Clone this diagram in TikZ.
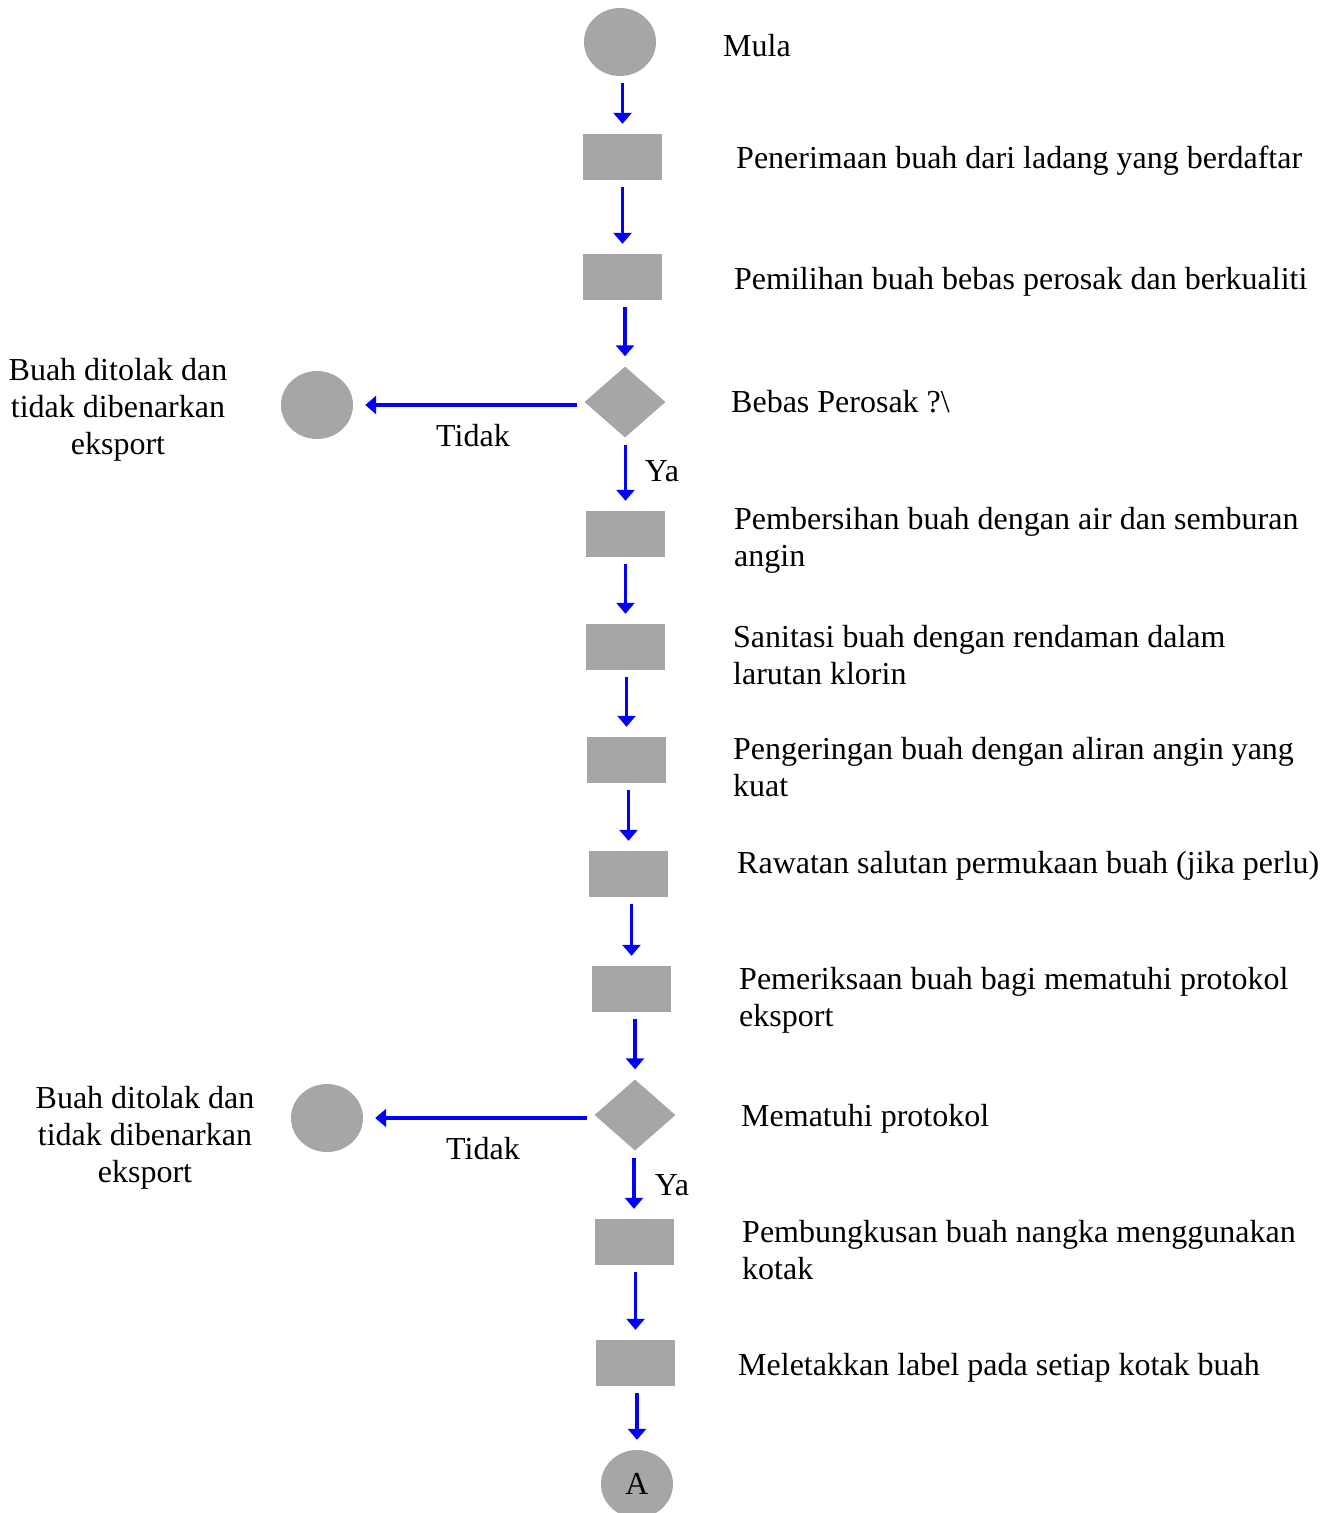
\documentclass[tikz,border=0pt]{standalone}
\usepackage{fontspec}
\setmainfont{Liberation Serif}
\usetikzlibrary{arrows.meta,shapes.geometric}

\definecolor{boxgray}{HTML}{A6A6A6}

\tikzset{
    proc/.style={fill=boxgray, minimum width=79pt, minimum height=46pt, inner sep=0pt},
    term/.style={ellipse, fill=boxgray, minimum width=72pt, minimum height=68pt, inner sep=0pt},
    decide/.style={diamond, fill=boxgray, minimum width=81pt, minimum height=71pt, inner sep=0pt},
    flow/.style={-{Triangle[width=18pt,length=11pt]}, draw=blue, line width=3.2pt, shorten <=7pt, shorten >=10pt},
    desc/.style={anchor=north west, inner sep=0pt, align=left},
    reject/.style={anchor=north, inner sep=0pt, align=center},
}

\begin{document}
\begin{tikzpicture}[x=1pt, y=-1pt, every node/.style={font=\fontsize{32}{37}\selectfont}]
    \useasboundingbox (0,0) rectangle (1333,1513);

    % main column
    \node[term] (start) at (620,42) {};
    \node[proc] (s1) at (622.5,157) {};
    \node[proc] (s2) at (622.5,277) {};
    \node[decide] (d1) at (625,402) {};
    \node[proc] (s3) at (625.5,534) {};
    \node[proc] (s4) at (625.5,647) {};
    \node[proc] (s5) at (626.5,760) {};
    \node[proc] (s6) at (628.5,874) {};
    \node[proc] (s7) at (631.5,989) {};
    \node[decide] (d2) at (635,1115) {};
    \node[proc] (s8) at (634,1242) {};
    \node[proc] (s9) at (635.5,1363) {};
    \node[term] (endA) at (637,1484) {A};

    % rejected fruit
    \node[term] (r1) at (317,405) {};
    \node[term] (r2) at (327,1118) {};
    \node[reject] (tr1) at (118,358) {Buah ditolak dan\\tidak dibenarkan\\eksport};
    \node[reject] (tr2) at (145,1086) {Buah ditolak dan\\tidak dibenarkan\\eksport};
    \node (no1) at (473,436) {Tidak};
    \node (no2) at (483,1149) {Tidak};
    \node (ya1) at (662,471) {Ya};
    \node (ya2) at (672,1185) {Ya};

    \draw[flow] (s1 |- start.south) -- (s1);
    \draw[flow] (s2 |- s1.south) -- (s2);
    \draw[flow] (d1 |- s2.south) -- (d1);
    \draw[flow] (s3 |- d1.south) -- (s3);
    \draw[flow, shorten >=12pt] (d1.west |- r1) -- (r1);
    \draw[flow] (s4 |- s3.south) -- (s4);
    \draw[flow] (s5 |- s4.south) -- (s5);
    \draw[flow] (s6 |- s5.south) -- (s6);
    \draw[flow] (s7 |- s6.south) -- (s7);
    \draw[flow] (d2 |- s7.south) -- (d2);
    \draw[flow] (s8 |- d2.south) -- (s8);
    \draw[flow, shorten >=12pt] (d2.west |- r2) -- (r2);
    \draw[flow] (s9 |- s8.south) -- (s9);
    \draw[flow] (endA |- s9.south) -- (endA);

    % descriptions
    \node[desc] (t0) at (723,34) {Mula};
    \node[desc] (t1) at (736,146) {Penerimaan buah dari ladang yang berdaftar};
    \node[desc] (t2) at (734,267) {Pemilihan buah bebas perosak dan berkualiti};
    \node[desc] (t3) at (731,390) {Bebas Perosak ?\textbackslash};
    \node[desc] (t4) at (734,507) {Pembersihan buah dengan air dan semburan\\angin};
    \node[desc] (t5) at (733,625) {Sanitasi buah dengan rendaman dalam\\larutan klorin};
    \node[desc] (t6) at (733,737) {Pengeringan buah dengan aliran angin yang\\kuat};
    \node[desc] (t7) at (737,851) {Rawatan salutan permukaan buah (jika perlu)};
    \node[desc] (t8) at (739,967) {Pemeriksaan buah bagi mematuhi protokol\\eksport};
    \node[desc] (t9) at (741,1104) {Mematuhi protokol};
    \node[desc] (t10) at (742,1220) {Pembungkusan buah nangka menggunakan\\kotak};
    \node[desc] (t11) at (738,1353) {Meletakkan label pada setiap kotak buah};
\end{tikzpicture}
\end{document}
